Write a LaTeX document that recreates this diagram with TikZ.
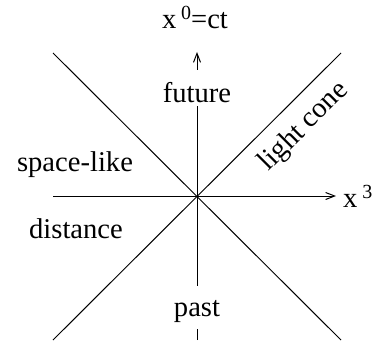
\documentclass[tikz,border=0pt]{standalone}
\usepackage{fontspec}
\setmainfont{Liberation Serif}
\usetikzlibrary{arrows.meta}
\begin{document}
\begin{tikzpicture}[x=1pt,y=-1pt,
  every node/.style={font=\fontsize{28.6}{34}\selectfont, inner sep=0pt},
  axis/.style={line width=1pt},
  cone/.style={line width=1pt},
  tip/.style={-{Straight Barb[length=9pt,width=7pt,line width=1pt]}}]
\useasboundingbox (0,0) rectangle (385,345);
% points
\coordinate (o) at (197,196);
\coordinate (tl) at (53,53);
\coordinate (tr) at (341,53);
\coordinate (bl) at (53,340);
\coordinate (br) at (341,340);
\coordinate (xl) at (53,196);
\coordinate (xr) at (336,196);
\coordinate (yt) at (197,52);
\coordinate (yb) at (197,340);
% labels
\node[anchor=base, text height=32pt, text depth=4pt] (future) at (197,102) {future};
\node[anchor=base, text height=30pt, text depth=13pt] (past) at (197,316) {past};
\node[anchor=base] (time) at (195,29) {x\,\raisebox{9pt}{\fontsize{20}{24}\selectfont 0}=ct};
\node[anchor=base west] (space) at (343,207) {x\,\raisebox{9pt}{\fontsize{20}{24}\selectfont 3}};
\node[anchor=base] (sl) at (75,171) {space-like};
\node[anchor=base] (dist) at (76,238) {distance};
\node[rotate=45] (lc) at (304,127) {light cone};
% light cone
\draw[cone] (tl) -- (br);
\draw[cone] (bl) -- (tr);
% axes
\draw[axis, tip] (xl) -- (xr);
\draw[axis] (yb) -- (past.south);
\draw[axis] (past.north) -- (future.south);
\draw[axis, tip] (future.north) -- (yt);
\end{tikzpicture}
\end{document}
